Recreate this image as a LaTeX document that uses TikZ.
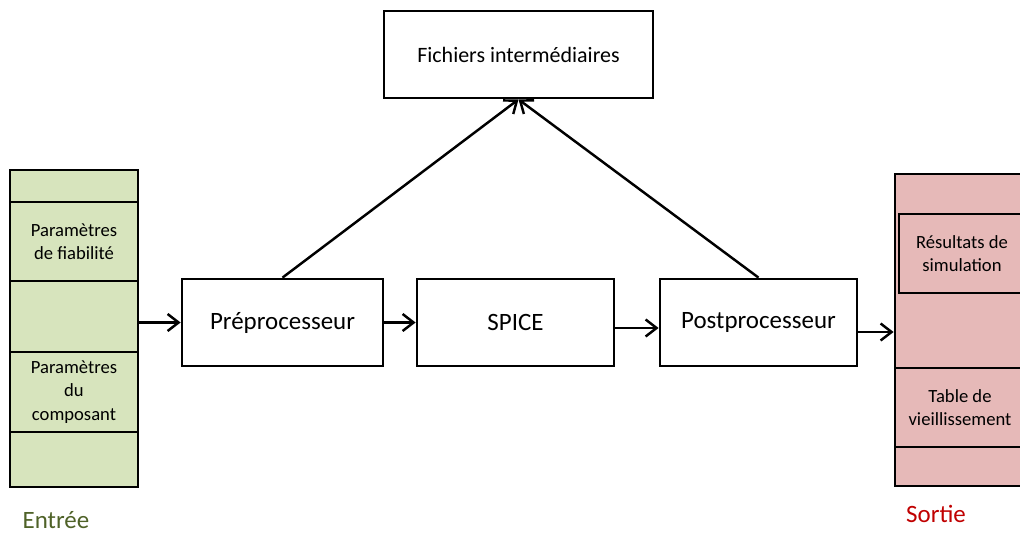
\documentclass[tikz,border=0pt]{standalone}
\usepackage{fontspec}
\setmainfont{Carlito}
\usetikzlibrary{arrows.meta}
\definecolor{entreefill}{RGB}{215,228,189}
\definecolor{sortiefill}{RGB}{230,185,184}
\definecolor{entreetext}{RGB}{79,98,40}
\definecolor{sortietext}{RGB}{192,0,0}

\begin{document}
\begin{tikzpicture}[x=0.02cm,y=-0.02cm,
    bloc/.style={draw,line width=1.6pt,fill=white,font=\fontsize{14.2}{16}\selectfont},
    cellin/.style={draw,line width=1.6pt,fill=entreefill,minimum width=2.56cm,inner sep=0pt,align=center,font=\fontsize{10.6}{13.3}\selectfont},
    cellout/.style={draw,line width=1.6pt,fill=sortiefill,minimum width=2.6cm,inner sep=0pt,align=center,font=\fontsize{10.6}{13.3}\selectfont},
    fleche/.style={line width=1.4pt,-{Straight Barb[length=2.2mm,width=3.4mm,line width=1.4pt]}}]
    \useasboundingbox (0,0) rectangle (1020,534);
    \clip (0,0) rectangle (1020,534);
    %Entree column
    \node[cellin,minimum height=0.64cm] (in1) at (74,186) {};
    \node[cellin,minimum height=1.58cm] (in2) at (74,241.5) {Paramètres\\de fiabilité};
    \node[cellin,minimum height=1.42cm] (in3) at (74,316.5) {};
    \node[cellin,minimum height=1.6cm] (in4) at (74,392) {Paramètres\\du\\composant};
    \node[cellin,minimum height=1.1cm] (in5) at (74,459.5) {};
    \node[text=entreetext,inner sep=0pt,font=\fontsize{14.2}{16}\selectfont] (entree) at (56,520) {Entrée};
    %Sortie column
    \node[cellout,minimum height=3.88cm] (out1) at (960,271) {};
    \node[cellout,minimum width=2.52cm,minimum height=1.58cm] (res) at (962,253.5) {Résultats de\\simulation};
    \node[cellout,minimum height=1.58cm] (out2) at (960,407.5) {Table de\\vieillissement};
    \node[cellout,minimum height=0.78cm] (out3) at (960,466.5) {};
    \node[text=sortietext,inner sep=0pt,font=\fontsize{14.2}{16}\selectfont] (sortie) at (936,514) {Sortie};
    %Processing chain
    \node[bloc,minimum width=4.02cm,minimum height=1.74cm] (pre) at (282.5,322.5) {Préprocesseur};
    \node[bloc,minimum width=3.94cm,minimum height=1.74cm] (spice) at (515.5,322.5) {SPICE};
    \node[bloc,minimum width=3.94cm,minimum height=1.74cm] (post) at (758.5,322.5) {Postprocesseur};
    \node[bloc,minimum width=5.38cm,minimum height=1.74cm,font=\fontsize{12.5}{15}\selectfont] (fich) at (518.5,54.5) {Fichiers intermédiaires};
    %Arrows
    \draw[fleche] (pre.west -| in3.east) -- (pre.west);
    \draw[fleche] (pre.east) -- (spice.west);
    \draw[fleche] ([yshift=-0.11cm]spice.east) -- ([yshift=-0.11cm]post.west);
    \draw[fleche] ([xshift=-0.04cm,yshift=-0.19cm]post.east) -- ([yshift=-0.19cm]post.east -| out1.west);
    \draw[fleche] (pre.north) -- (fich.south);
    \draw[fleche] (post.north) -- (fich.south);
\end{tikzpicture}
\end{document}
